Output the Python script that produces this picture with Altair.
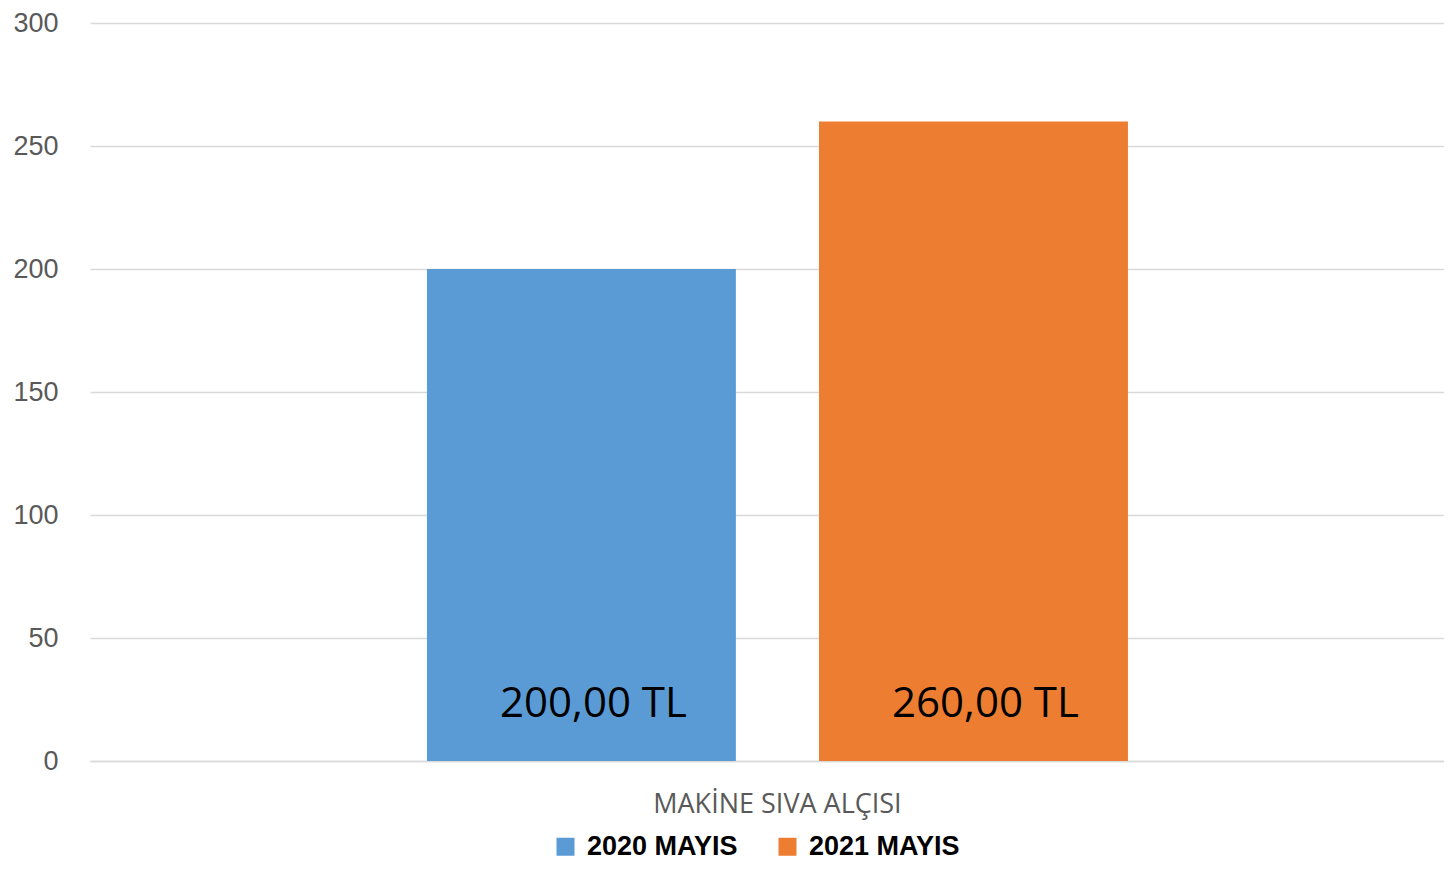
import altair as alt
import pandas as pd

categories = ["MAKİNE SIVA ALÇISI", "MAKİNE SIVA ALÇISI"]
series = ["2020 MAYIS", "2021 MAYIS"]
values = [200, 260]
labels = ["200,00 TL", "260,00 TL"]
colors = ["#5B9BD5", "#ED7D31"]
y_ticks = [0, 50, 100, 150, 200, 250, 300]

df = pd.DataFrame({"category": categories, "series": series, "value": values, "label": labels})

x_enc = alt.X(
    "category:N",
    title=None,
    scale=alt.Scale(paddingInner=0, paddingOuter=0.4658, align=0.516),
    axis=alt.Axis(labelAngle=0, labelFontSize=27, labelColor="#595959", labelPadding=30, labelLimit=0,
                  labelFont="Open Sans", domainColor="#d9d9d9", domainWidth=1.5, ticks=False),
)
xo_enc = alt.XOffset("series:N", scale=alt.Scale(paddingInner=0.212, paddingOuter=0))
y_scale = alt.Scale(domain=[0, 300])

bars = alt.Chart(df).mark_bar().encode(
    x=x_enc,
    xOffset=xo_enc,
    y=alt.Y("value:Q", title=None, scale=y_scale,
            axis=alt.Axis(values=y_ticks, labelFontSize=27, labelColor="#595959", labelFont="Liberation Sans",
                          labelPadding=32, domain=False, ticks=False, gridColor="#d9d9d9", gridWidth=1.5)),
    color=alt.Color("series:N", scale=alt.Scale(domain=series, range=colors),
                    legend=alt.Legend(orient="none", legendX=462, legendY=810, direction="horizontal",
                                      title=None, labelFontSize=27, labelFontWeight="bold", labelColor="black",
                                      labelFont="Liberation Sans", symbolType="square", symbolSize=324,
                                      symbolStrokeWidth=0, labelOffset=8, columnPadding=36)),
)

text = alt.Chart(df).mark_text(dy=-57, dx=12, fontSize=42, baseline="middle", color="black",
                               font="Open Sans").encode(
    x=alt.X("category:N"),
    xOffset=alt.XOffset("series:N"),
    y=alt.datum(0),
    text="label:N",
)

chart = alt.layer(bars, text).properties(
    width=1354, height=738,
    padding={"left": 82, "top": 15, "right": 0, "bottom": 101},
    autosize=alt.AutoSizeParams(type="none"),
).configure_view(stroke=None)

chart.save("out.html", embed_options={"renderer": "svg", "actions": False})
